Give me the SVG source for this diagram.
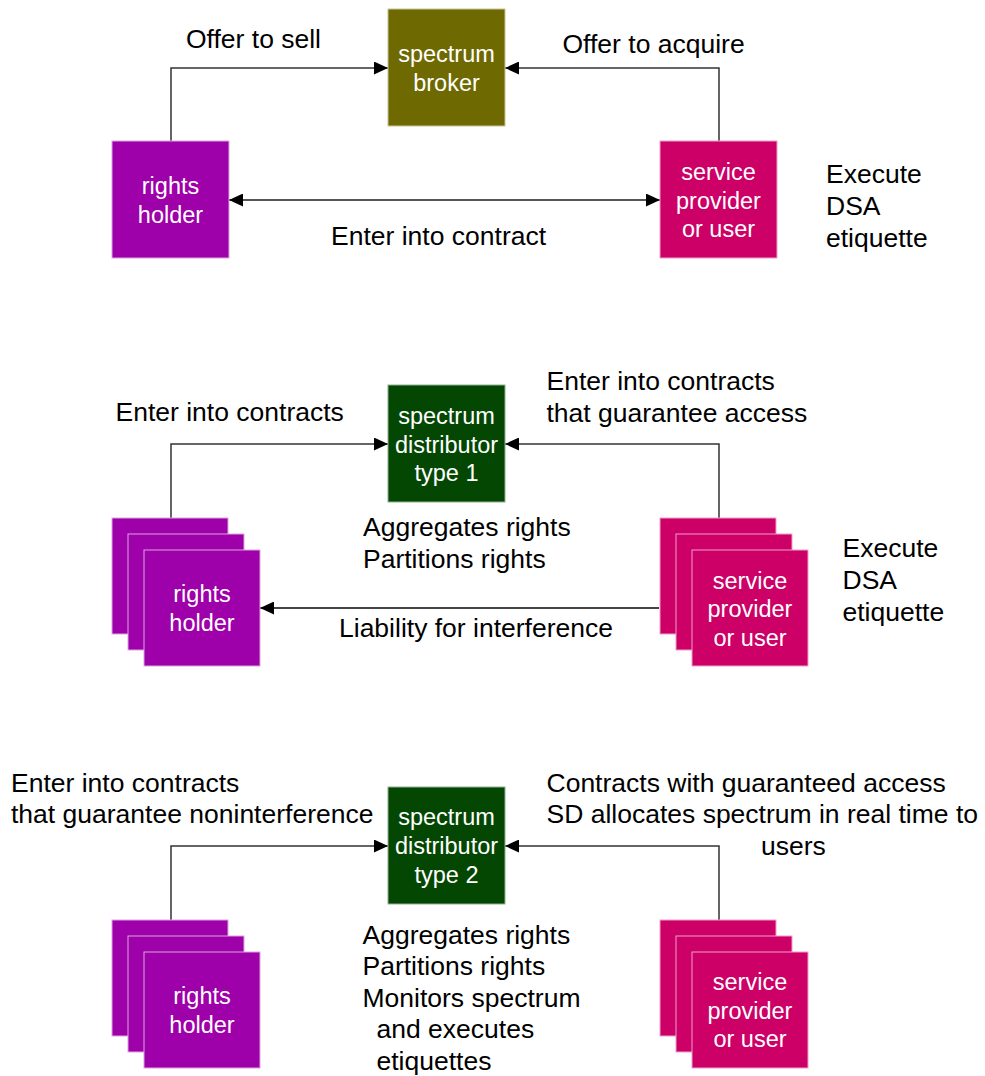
<svg xmlns="http://www.w3.org/2000/svg" width="985" height="1076" viewBox="0 0 985 1076">
<style>
.lbl{font-family:"Liberation Sans",Arial,sans-serif;font-size:26.5px;fill:#000}
.bt{font-family:"Liberation Sans",Arial,sans-serif;font-size:23.5px;fill:#fff;text-anchor:middle}
.rh{fill:#9e00a9;stroke:#dca6dc;stroke-width:1}
.sp{fill:#cc0066;stroke:#eea0c8;stroke-width:1}
.br{fill:#6e6900;stroke:#c8c49a;stroke-width:1}
.sd{fill:#034703;stroke:#8fb08f;stroke-width:1}
.ln{fill:none;stroke:#333;stroke-width:1.5}
</style>
<defs>
<marker id="ah" viewBox="0 0 14 13" refX="14" refY="6.5" markerWidth="14" markerHeight="13" markerUnits="userSpaceOnUse" orient="auto-start-reverse">
<path d="M0,0 L14,6.5 L0,13 Z" fill="#000"/>
</marker>
</defs>
<rect width="985" height="1076" fill="#fff"/>

<g id="connectors">
<path class="ln" d="M171,141 V68 H388" marker-end="url(#ah)"/>
<path class="ln" d="M719,141 V68 H505" marker-end="url(#ah)"/>
<path class="ln" d="M229,200 H660" style="stroke:#555;stroke-width:2" marker-start="url(#ah)" marker-end="url(#ah)"/>
<path class="ln" d="M171,518 V444 H388" marker-end="url(#ah)"/>
<path class="ln" d="M719,518 V444 H505" marker-end="url(#ah)"/>
<path class="ln" d="M659,608 H260" style="stroke:#444;stroke-width:2" marker-end="url(#ah)"/>
<path class="ln" d="M171,920 V846 H388" marker-end="url(#ah)"/>
<path class="ln" d="M719,920 V846 H505" marker-end="url(#ah)"/>
</g>

<g id="broker">
<rect class="br" x="388" y="9" width="117" height="117"/>
<text class="bt" x="446.5" y="62">spectrum</text>
<text class="bt" x="446.5" y="91">broker</text>
</g>
<g id="rights1">
<rect class="rh" x="112" y="141" width="117" height="117"/>
<text class="bt" x="170.5" y="194">rights</text>
<text class="bt" x="170.5" y="223">holder</text>
</g>
<g id="sp1">
<rect class="sp" x="660" y="141" width="117" height="117"/>
<text class="bt" x="718.5" y="180">service</text>
<text class="bt" x="718.5" y="208.5">provider</text>
<text class="bt" x="718.5" y="237">or user</text>
</g>

<g id="sd1">
<rect class="sd" x="388" y="385" width="117" height="117"/>
<text class="bt" x="446.5" y="423.5">spectrum</text>
<text class="bt" x="446.5" y="452.5">distributor</text>
<text class="bt" x="446.5" y="481">type 1</text>
</g>
<g id="rights2">
<rect class="rh" x="112" y="518" width="116" height="116"/>
<rect class="rh" x="128" y="534" width="116" height="116"/>
<rect class="rh" x="144" y="550" width="116" height="116"/>
<text class="bt" x="202" y="602">rights</text>
<text class="bt" x="202" y="631">holder</text>
</g>
<g id="sp2">
<rect class="sp" x="660" y="518" width="116" height="116"/>
<rect class="sp" x="676" y="534" width="116" height="116"/>
<rect class="sp" x="692" y="550" width="116" height="116"/>
<text class="bt" x="750" y="588.5">service</text>
<text class="bt" x="750" y="617">provider</text>
<text class="bt" x="750" y="645.5">or user</text>
</g>

<g id="sd2">
<rect class="sd" x="388" y="787" width="117" height="117"/>
<text class="bt" x="446.5" y="825">spectrum</text>
<text class="bt" x="446.5" y="854">distributor</text>
<text class="bt" x="446.5" y="883">type 2</text>
</g>
<g id="rights3">
<rect class="rh" x="112" y="920" width="116" height="116"/>
<rect class="rh" x="128" y="936" width="116" height="116"/>
<rect class="rh" x="144" y="952" width="116" height="116"/>
<text class="bt" x="202" y="1003.5">rights</text>
<text class="bt" x="202" y="1032.5">holder</text>
</g>
<g id="sp3">
<rect class="sp" x="660" y="920" width="116" height="116"/>
<rect class="sp" x="676" y="936" width="116" height="116"/>
<rect class="sp" x="692" y="952" width="116" height="116"/>
<text class="bt" x="750" y="990">service</text>
<text class="bt" x="750" y="1018.5">provider</text>
<text class="bt" x="750" y="1047">or user</text>
</g>

<g id="labels">
<text class="lbl" x="186" y="48">Offer to sell</text>
<text class="lbl" x="562.5" y="53">Offer to acquire</text>
<text class="lbl" x="331" y="245">Enter into contract</text>
<text class="lbl" x="826"><tspan x="826" y="183">Execute</tspan><tspan x="826" y="215">DSA</tspan><tspan x="826" y="247">etiquette</tspan></text>

<text class="lbl" x="115.5" y="421">Enter into contracts</text>
<text class="lbl"><tspan x="546.5" y="390">Enter into contracts</tspan><tspan x="546.5" y="421.5">that guarantee access</tspan></text>
<text class="lbl"><tspan x="363" y="536">Aggregates rights</tspan><tspan x="363" y="568">Partitions rights</tspan></text>
<text class="lbl" x="339" y="637">Liability for interference</text>
<text class="lbl"><tspan x="842.5" y="557">Execute</tspan><tspan x="842.5" y="589">DSA</tspan><tspan x="842.5" y="620.5">etiquette</tspan></text>

<text class="lbl"><tspan x="11" y="791.5">Enter into contracts</tspan><tspan x="11" y="823">that guarantee noninterference</tspan></text>
<text class="lbl"><tspan x="546.5" y="791.5">Contracts with guaranteed access</tspan><tspan x="546.5" y="823">SD allocates spectrum in real time to</tspan><tspan x="761" y="855">users</tspan></text>
<text class="lbl"><tspan x="362.5" y="943.5">Aggregates rights</tspan><tspan x="362.5" y="975">Partitions rights</tspan><tspan x="362.5" y="1006.5">Monitors spectrum</tspan><tspan x="376.5" y="1038">and executes</tspan><tspan x="376.5" y="1069.5">etiquettes</tspan></text>
</g>
</svg>
